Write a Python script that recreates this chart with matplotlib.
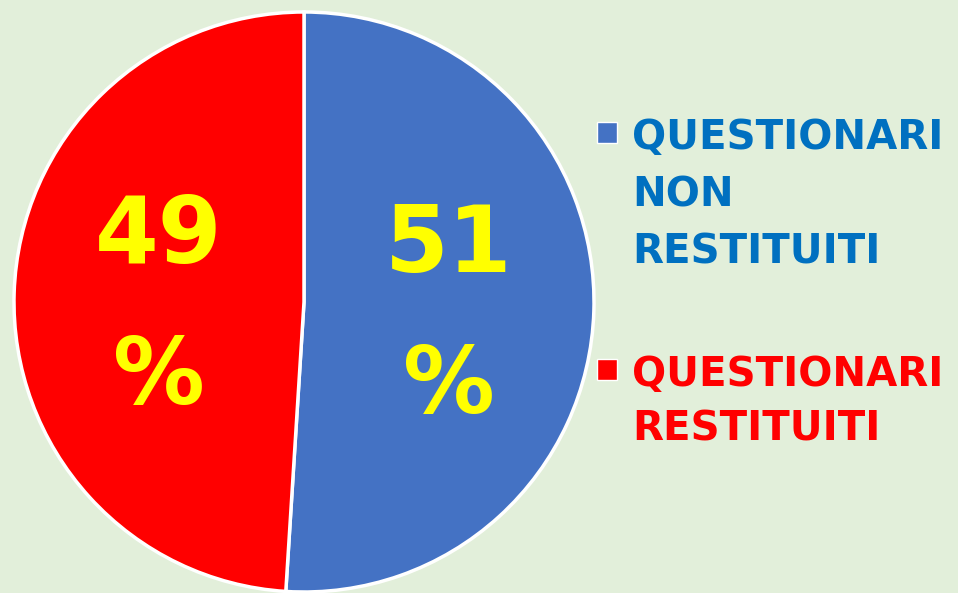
import matplotlib.pyplot as plt
from matplotlib.patches import Rectangle

# data
labels = ['QUESTIONARI\nNON\nRESTITUITI', 'QUESTIONARI\nRESTITUITI']
values = [51, 49]
colors = ['#4472C4', '#FF0000']
text_colors = ['#0070C0', '#FF0000']

W, H = 958, 593
fig = plt.figure(figsize=(W / 100, H / 100), dpi=100)
fig.patch.set_facecolor('#E2EFDA')

# pie centre (304, 302) px, radius 290 px
cx, cy, r = 304, 302, 290
ax = fig.add_axes([(cx - r) / W, (H - cy - r) / H, 2 * r / W, 2 * r / H])
ax.set_facecolor('none')

wedges, texts, autotexts = ax.pie(
    values, colors=colors, startangle=90, counterclock=False,
    autopct=lambda p: f'{p:.0f}\n%', pctdistance=0.5, radius=1,
    wedgeprops=dict(edgecolor='white', linewidth=2.5),
    textprops=dict(color='#FFFF00', fontsize=66, fontweight='bold', linespacing=1.72))
for t in autotexts:
    x, y = t.get_position()
    t.set_position((x, y - 0.035))
ax.set_xlim(-1, 1)
ax.set_ylim(-1, 1)
ax.set_aspect('equal')

# legend, drawn by hand
tops = [120, 357]
spacings = [1.55, 1.48]
for lab, col, tcol, top, ls in zip(labels, colors, text_colors, tops, spacings):
    fig.patches.append(Rectangle((597 / W, 1 - (top + 23) / H), 20 / W, 21 / H,
                                 transform=fig.transFigure, facecolor=col,
                                 edgecolor='white', linewidth=1))
    fig.text(632 / W, 1 - (top - 2) / H, lab, color=tcol, fontsize=29,
             fontweight='bold', va='top', ha='left', linespacing=ls)

fig.savefig('out.png', dpi=100, facecolor=fig.get_facecolor())
